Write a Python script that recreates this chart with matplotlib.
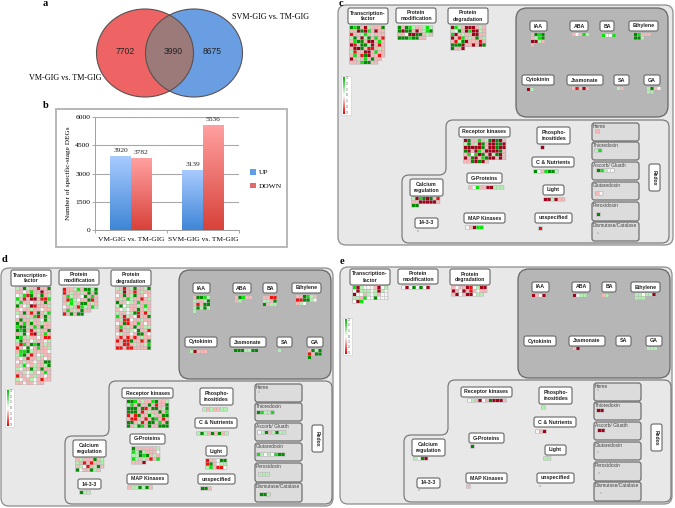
import numpy as np
import matplotlib
matplotlib.use("Agg")
import matplotlib.pyplot as plt
from matplotlib.patches import Ellipse, FancyBboxPatch, PathPatch, Patch, Rectangle
from matplotlib.path import Path

# ---------- data ----------
venn_values = ["7702", "3990", "8675"]
bar_categories = ["VM-GIG vs. TM-GIG", "SVM-GIG vs. TM-GIG"]
up_values = [3920, 3139]
down_values = [3782, 5536]
y_ticks = [0, 1500, 3000, 4500, 6000]
legend_scale = ["3", "2", "1", "0", "1", "2", "3"]

# cell codes: D dark green, G green, L light green, W white, P pink, R red, K dark red, . empty dot
c_tf = ["DGDPKLPPPD", "PPKDKGPKPP", "RPPLGPLPPP", "LDPKLDPGPR", "PGDDPKKPGP", "KRPDDLKPRP",
        "PKKDPRRPLP", "LRPPKKPGPP", "PGPRDKPPRP", "KPLPGPDPP", "PPPGDDPP"]
c_pm = ["DPDGLPPLGL", "DKDDPKPLGD", "PPWKKDDPLP", "DDDGDDPP"]
c_pd = ["KGLPKKKPLP", "LWDPKGKKLP", "GKPLPPKKPP", "KPRGPLPDPL", "PRLDKPPPRP", "DDDKPPKPKD", "DPPK"]
c_iaa = ["PDGD", "PLGD", "KKLP", "P"]
c_aba = ["PWPGL"]
c_ba = ["GWWG"]
c_eth = ["DGPPP", "DDL"]
c_cyt = ["KL"]
c_jas = ["PRPKP"]
c_sa = ["LP"]
c_ga = ["LDPW", "LL"]
c_rk = ["KDPPGPLDKDKP", "LDPLKDPKKDDK", "KKKKKDPKKDKK", "DKPKGPKKKKDP", "PGWGKDPKLDKP", "KPDKPGDKKPKP", "PPDKDKP"]
c_phos = ["K"]
c_cn = ["DWPGDDL"]
c_gp = ["PWGPPKKLLL"]
c_light = ["KKLKPP"]
c_ca = ["LKGDKDPR", "PPKKKKKP", "DD"]
c_1433 = ["."]
c_map = ["WPKGG"]
c_uns = ["R"]
c_heme = ["P"]
c_thio = ["LG"]
c_asc = ["DGLWW"]
c_glut = ["PW"]
c_perox = ["D"]
c_dism = ["."]

d_tf = ["LPDLPPRPPD", "PPWPGPPKPP", "WLGRDPLDPL", "GPRPKKPRRG", "LGPPWPLPDP", "DPWLKRPPPL",
        "PWPPLPPWPP", "LPDPRPDPLG", "WPPLPGRPDP", "PDPPLPPWDL", "DPGPDPPLPP", "GDDLPGPDPP",
        "DGDPRPLPPD", "PLDWRKLPGP", "DGPLPPWPRR", "LDPPWLPPWL", "PRGPDGDPLP", "RPWDWPGPPL",
        "PGGDLPPPPW", "LGDPRPWLPP", "PWPRPPLPWP", "WPLPPWPPDD", "PLGWPLPPLD", "LWPPDLPDPP",
        "PPLWLPWPGP", "RPPWPLPPWP", "LWPPLWPRPP", "PPWPPWPP"]
d_pm = ["RPPLGPDDLD", "RPLPPLPDPD", "PGLPPWDPGP", "PRGLWPPDRP", "PLGLPDDPLP", "WPLPRGLPGL", "PGPLPDPP", "RPDPDD"]
d_pd = ["LPRPLDPPLD", "PLKPPRPLPP", "WPDPLDPPWP", "PLPGLPPRPL", "DPPWLPGPPP", "LDWLPPLPGP",
        "PWLWPPDPLP", "LPPWLDRPRL", "GPRLPWRPPD", "PLRRWPPLPP", "WPDRPPGPWP", "PGPLPDPPLL",
        "PRPPLWDPPR", "WLPPWPDDPW", "PRPRPRPLPP", "RPRRDPPRPD", "PPRRPLPPLG", "RRPRRPPPPD"]
d_iaa = ["PDDGL", "LPPLD", "PRPDD", "LDLDL", "L"]
d_aba = ["PDGPP", "PL"]
d_ba = ["PPRR", "LLPD", "DPLL"]
d_eth = ["PPDGLP", "RRDDLW", "PLW"]
d_cyt = ["LKPPP"]
d_jas = ["DDDLLDD"]
d_sa = ["L"]
d_ga = ["PDLD", "RPDD", "D"]
d_rk = ["DDGPLPPGDPPL", "LGPDPPDPRPPD", "DDDPDRPDDPLD", "DDDPRPLPPDPG", "RPRDPPDLPPDD",
        "PRRPPRPDGPRP", "DDPLRPDDPGPD", "DPLDGPDPPDDD"]
d_gp = ["DPPPPPPL", "GLDLPPPW", "LLDGDPLP", "GLPLPRPG", "PPPK"]
d_ca = ["PLPPPDPL", "LPRPRPPL", "PLWRPLDP", "DWPPDLP"]
d_1433 = ["DLL"]
d_map = ["PLLDLDP"]
d_phos = ["LPLPPLL"]
d_cn = ["LDLPDPDPL"]
d_light = ["RPPWDD", "RDPWLL", "LGPRRW"]
d_uns = ["DDP"]
d_heme = ["."]
d_thio = ["DGLLG"]
d_asc = ["WLDPLDLL"]
d_glut = ["GLWLWGDD"]
d_perox = ["LLL"]
d_dism = ["DDL"]

e_tf = ["GKLWWWPKWL", "WKLLLWLKLW", "KWWPLWLPWW", "LLPGWWDWWW", "WKG"]
e_pm = ["WKWDWDWK"]
e_pd = ["PWPPKRWLKK", "KPWKPRPWPP", "PKWPKKWLL"]
e_iaa = ["KPWK"]
e_aba = ["KWLL"]
e_ba = ["PL"]
e_eth = ["LLWLLK", "LLL"]
e_jas = ["PK"]
e_ga = ["LLL"]
e_rk = ["WLPKWPDKKKP"]
e_phos = ["L"]
e_cn = ["WPK"]
e_gp = ["D"]
e_light = ["LL"]
e_ca = ["LWDK"]
e_1433 = ["."]
e_map = ["P"]
e_uns = ["."]
e_heme = ["."]
e_thio = ["KK"]
e_asc = ["KK"]
e_glut = ["."]
e_perox = ["."]
e_dism = ["."]

# ---------- styles ----------
CELL = {"D": "#008a00", "G": "#10e010", "L": "#b0f0b0", "W": "#f6f6f6",
        "P": "#f5b8b8", "R": "#f01010", "K": "#a00018"}
SANS = ["Liberation Sans", "DejaVu Sans"]
SERIF = ["Liberation Serif", "DejaVu Serif"]

fig = plt.figure(figsize=(6.75, 5.08), dpi=100)
bg = fig.add_axes([0, 0, 1, 1])
bg.set_xlim(0, 675)
bg.set_ylim(508, 0)
bg.axis("off")


def rbox(ax, x0, y0, x1, y1, r, fc, ec, lw=0.8, z=2):
    p = FancyBboxPatch((x0 + r, y0 + r), x1 - x0 - 2 * r, y1 - y0 - 2 * r,
                       boxstyle=f"round,pad={r},rounding_size={r}",
                       fc=fc, ec=ec, lw=lw, zorder=z)
    ax.add_patch(p)
    return p


def round_poly(pts, r):
    verts, codes = [], []
    n = len(pts)
    for i in range(n):
        p = np.array(pts[i], float)
        a = np.array(pts[i - 1], float)
        b = np.array(pts[(i + 1) % n], float)
        s = p + (a - p) / np.linalg.norm(a - p) * r
        e = p + (b - p) / np.linalg.norm(b - p) * r
        verts += [s, p, e]
        codes += [Path.MOVETO if i == 0 else Path.LINETO, Path.CURVE3, Path.CURVE3]
    verts.append(verts[0])
    codes.append(Path.CLOSEPOLY)
    return Path(verts, codes)


def draw_grid(ox, oy, rows, x, y):
    pitch, size = 3.5, 3.0
    for j, row in enumerate(rows):
        if row == ".":
            bg.add_patch(Rectangle((ox + x, oy + y), 2, 2, fc="#c4c4c4", ec="none", zorder=4, snap=False))
            continue
        bg.add_patch(Rectangle((ox + x - 0.7, oy + y + j * pitch - 0.6), len(row) * pitch + 0.9, pitch + 0.6,
                               fc="#b4b4b4", ec="none", zorder=3, snap=False))
    for j, row in enumerate(rows):
        if row == ".":
            continue
        for i, code in enumerate(row):
            bg.add_patch(Rectangle((ox + x + i * pitch, oy + y + j * pitch), size, size,
                                   fc=CELL[code], ec="none", zorder=4, snap=False))


UPPER_BOXES = [("Transcription-\nfactor", 10, 50, 3, 19), ("Protein\nmodification", 58, 98, 3, 18),
               ("Protein\ndegradation", 110, 150, 3, 19), ("IAA", 192, 209, 16, 26), ("ABA", 232, 250, 16, 26),
               ("BA", 262, 276, 16, 26), ("Ethylene", 291, 320, 16, 26), ("Cytokinin", 184, 216, 70, 80),
               ("Jasmonate", 229, 265, 70, 80), ("SA", 276, 291, 70, 80), ("GA", 306, 322, 70, 80)]
LOWER_BOXES = [("Receptor kinases", 121, 172, 122, 132), ("Phospho-\ninositides", 199, 232, 122, 139),
               ("C & Nutrients", 194, 236, 152, 162), ("G-Proteins", 129, 164, 168, 178),
               ("Light", 205, 226, 180, 190), ("Calcium\nregulation", 72, 105, 174, 191),
               ("14-3-3", 77, 100, 213, 223), ("MAP Kinases", 126, 167, 208, 218),
               ("unspecified", 197, 234, 208, 218)]
REDOX_BOXES = [("Heme", 118, 136), ("Thioredoxin", 137, 155), ("Ascorb/ Gluath", 157, 175),
               ("Glutaredoxin", 177, 195), ("Peroxidoxin", 197, 216), ("Dismutase/Catalase", 217, 236)]


def label_box(ox, oy, txt, x0, x1, y0, y1):
    rbox(bg, ox + x0, oy + y0, ox + x1, oy + y1, 2, "white", "#666666", 0.8, 5)
    bg.text(ox + (x0 + x1) / 2, oy + (y0 + y1) / 2, txt, ha="center", va="center", family=SANS,
            weight="bold", fontsize=3.8, linespacing=1.25, color="#222222", zorder=6)


def panel(ox, oy, w, h, up, lo, grids, legend):
    rbox(bg, ox, oy, ox + w, oy + h, 8, "#e8e8e8", "#8c8c8c", 0.9, 1)
    rbox(bg, ox + 178, oy + 3 + up, ox + 330, oy + 112 + up, 11, "#b6b6b6", "#666666", 0.9, 2)
    pts = [(108, 115 + lo), (331, 115 + lo), (331, h - 2), (64, h - 2), (64, 170 + lo), (108, 170 + lo)]
    path = round_poly([(ox + a, oy + b) for a, b in pts], 7)
    bg.add_patch(PathPatch(path, fc="#e8e8e8", ec="#707070", lw=0.8, zorder=2))
    for t, x0, x1, y0, y1 in UPPER_BOXES:
        label_box(ox, oy, t, x0, x1, y0 + up, y1 + up)
    for t, x0, x1, y0, y1 in LOWER_BOXES:
        label_box(ox, oy, t, x0, x1, y0 + lo, y1 + lo)
    for t, y0, y1 in REDOX_BOXES:
        rbox(bg, ox + 254, oy + y0 + lo, ox + 301, oy + y1 + lo, 2.5, "#dcdcdc", "#707070", 0.9, 3)
        bg.text(ox + 255, oy + y0 + lo + 3.5, t, ha="left", va="center", family=SANS, fontsize=3.5,
                color="#444444", zorder=6)
    rbox(bg, ox + 311, oy + 159 + lo, ox + 322, oy + 186 + lo, 2, "white", "#666666", 0.8, 5)
    bg.text(ox + 316.5, oy + 172.5 + lo, "Redox", rotation=270, ha="center", va="center", family=SANS,
            weight="bold", fontsize=3.6, color="#222222", zorder=6)
    for rows, x, y in grids:
        draw_grid(ox, oy, rows, x, y)
    lx, ly, lw_, lh = legend
    bg.add_patch(Rectangle((lx, ly), lw_, lh, fc="white", ec="#cccccc", lw=0.4, zorder=3))
    cmap = matplotlib.colors.LinearSegmentedColormap.from_list("g", ["#00c000", "#ffffff", "#f00000"])
    bg.imshow(np.linspace(0, 1, 40)[:, None], cmap=cmap, aspect="auto", zorder=4,
              extent=(lx + 1.5, lx + 3.5, ly + lh - 1, ly + 1))
    for k, t in enumerate(legend_scale):
        bg.text(lx + 5, ly + 2 + k * (lh - 4) / 6, t, fontsize=2.3, family=SANS, va="center", color="#444444", zorder=5)
    bg.set_xlim(0, 675)
    bg.set_ylim(508, 0)


# ---------- a: Venn ----------
red = Ellipse((145, 53), 97, 88, fc="#ee6464", ec="none", zorder=1)
blue = Ellipse((194, 53), 97, 88, fc="#6a9ee2", ec="none", zorder=1)
bg.add_patch(red)
bg.add_patch(blue)
lens = Ellipse((145, 53), 97, 88, fc="#9c7a7a", ec="none", zorder=1.5)
bg.add_patch(lens)
lens.set_clip_path(blue)
for cx in (145, 194):
    bg.add_patch(Ellipse((cx, 53), 97, 88, fc="none", ec="#5a5050", lw=0.8, zorder=2))
for t, x in zip(venn_values, (125, 173, 212)):
    bg.text(x, 52, t, ha="center", va="center", family=SANS, fontsize=6.2, color="#222222", zorder=3)
bg.text(271, 17, "SVM-GIG vs. TM-GIG", ha="center", va="center", family=SERIF, fontsize=5.9)
bg.text(65, 78, "VM-GIG vs. TM-GIG", ha="center", va="center", family=SERIF, fontsize=5.9)

# panel letters
for t, x, y in (("a", 45, 4), ("b", 46, 105), ("c", 341, 4), ("d", 5, 260), ("e", 342, 262)):
    bg.text(x, y, t, ha="center", va="center", family=SERIF, weight="bold", fontsize=7.5)

# ---------- b frame ----------
bg.add_patch(Rectangle((56, 109), 231, 138, fc="white", ec="#b8b8b8", lw=1.4, zorder=1))

# ---------- c, d, e ----------
panel(338, 5, 335, 240, 0, 0, [
    (c_tf, 12, 21), (c_pm, 60, 21), (c_pd, 113, 21), (c_iaa, 193, 28), (c_aba, 234, 28), (c_ba, 264, 29),
    (c_eth, 296, 28), (c_cyt, 189, 83), (c_jas, 234, 82), (c_sa, 279, 82), (c_ga, 309, 82), (c_rk, 126, 134),
    (c_phos, 203, 141), (c_cn, 196, 165), (c_gp, 131, 181), (c_light, 206, 193), (c_ca, 74, 192),
    (c_1433, 79, 225), (c_map, 128, 221), (c_uns, 201, 222), (c_heme, 258, 125), (c_thio, 257, 144),
    (c_asc, 259, 164), (c_glut, 258, 187), (c_perox, 259, 208), (c_dism, 259, 227)], (341, 76, 10, 39))
panel(1, 268, 332, 238, -1, -2, [
    (d_tf, 15, 19), (d_pm, 62, 20), (d_pd, 115, 19), (d_iaa, 192, 28), (d_aba, 234, 28), (d_ba, 262, 28),
    (d_eth, 295, 27), (d_cyt, 189, 82), (d_jas, 233, 81), (d_sa, 277, 81), (d_ga, 307, 81), (d_rk, 126, 132),
    (d_phos, 202, 140), (d_cn, 196, 164), (d_gp, 131, 179), (d_light, 205, 191), (d_ca, 75, 190),
    (d_1433, 79, 223), (d_map, 127, 218), (d_uns, 200, 219), (d_heme, 257, 123), (d_thio, 256, 143),
    (d_asc, 257, 163), (d_glut, 256, 185), (d_perox, 258, 205), (d_dism, 259, 225)], (5, 389, 9, 38))
panel(340, 267, 332, 237, -1, -2, [
    (e_tf, 13, 19), (e_pm, 62, 19), (e_pd, 112, 19), (e_iaa, 192, 27), (e_aba, 233, 27), (e_ba, 262, 27),
    (e_eth, 295, 26), (e_jas, 233, 80), (e_ga, 307, 80), (e_rk, 128, 132), (e_phos, 202, 139),
    (e_cn, 196, 163), (e_gp, 131, 178), (e_light, 204, 190), (e_ca, 74, 190), (e_1433, 78, 222),
    (e_map, 127, 218), (e_uns, 199, 218), (e_heme, 257, 122), (e_thio, 257, 142), (e_asc, 258, 162),
    (e_glut, 257, 184), (e_perox, 258, 205), (e_dism, 260, 225)], (343, 318, 9, 37))

# ---------- b: bars ----------
ax = fig.add_axes([95 / 675, (508 - 230) / 508, 144 / 675, 113 / 508])
ax.patch.set_alpha(0)
ax.set_xlim(-0.5, 1.5)
ax.set_ylim(0, 6000)
x = np.arange(len(bar_categories))
bw = 0.285
up_cmap = matplotlib.colors.LinearSegmentedColormap.from_list("u", ["#3f86d6", "#a8caff"])
dn_cmap = matplotlib.colors.LinearSegmentedColormap.from_list("d", ["#d8423a", "#ffa0a0"])
grad = np.linspace(0, 1, 64)[:, None]
for vals, off, cm in ((up_values, -bw / 2, up_cmap), (down_values, bw / 2, dn_cmap)):
    bars = ax.bar(x + off, vals, width=bw, fc="none", ec="none", zorder=3)
    for b, v in zip(bars, vals):
        im = ax.imshow(grad[::-1], cmap=cm, aspect="auto", zorder=3,
                       extent=(b.get_x(), b.get_x() + bw, 0, v))
        ax.text(b.get_x() + bw / 2, v + 190, str(v), ha="center", va="bottom", family=SERIF, fontsize=5.4, color="#222222")
ax.set_xlim(-0.5, 1.5)
ax.set_ylim(0, 6000)
ax.set_yticks(y_ticks)
ax.set_xticks(x)
ax.set_xticklabels(bar_categories, family=SERIF, fontsize=5.4)
ax.set_xticks([-0.5, 0.5, 1.5], minor=True)
ax.tick_params(axis="x", which="major", length=0, pad=5)
ax.tick_params(axis="x", which="minor", length=2, color="#999999", width=0.6)
ax.tick_params(axis="y", length=2, color="#999999", width=0.6, labelsize=5.4, pad=1.5)
for t in ax.get_yticklabels():
    t.set_family(SERIF)
ax.yaxis.grid(True, color="#a8a8a8", lw=0.8)
ax.set_axisbelow(True)
for s in ("top", "right"):
    ax.spines[s].set_visible(False)
for s in ("left", "bottom"):
    ax.spines[s].set_color("#a0a0a0")
    ax.spines[s].set_linewidth(0.7)
ax.set_ylabel("Number of specific-stage DEGs", family=SERIF, fontsize=5.2, labelpad=3)
ax.legend(handles=[Patch(fc="#5d9ee6", label="UP"), Patch(fc="#e4696a", label="DOWN")],
          loc="center left", bbox_to_anchor=(250 / 675, 1 - 179 / 508), bbox_transform=fig.transFigure,
          frameon=False, prop={"family": SERIF, "size": 5.4}, handlelength=0.8, handleheight=0.8,
          handletextpad=0.35, labelspacing=1.0, borderpad=0, borderaxespad=0)

fig.savefig("out.png", dpi=100)
